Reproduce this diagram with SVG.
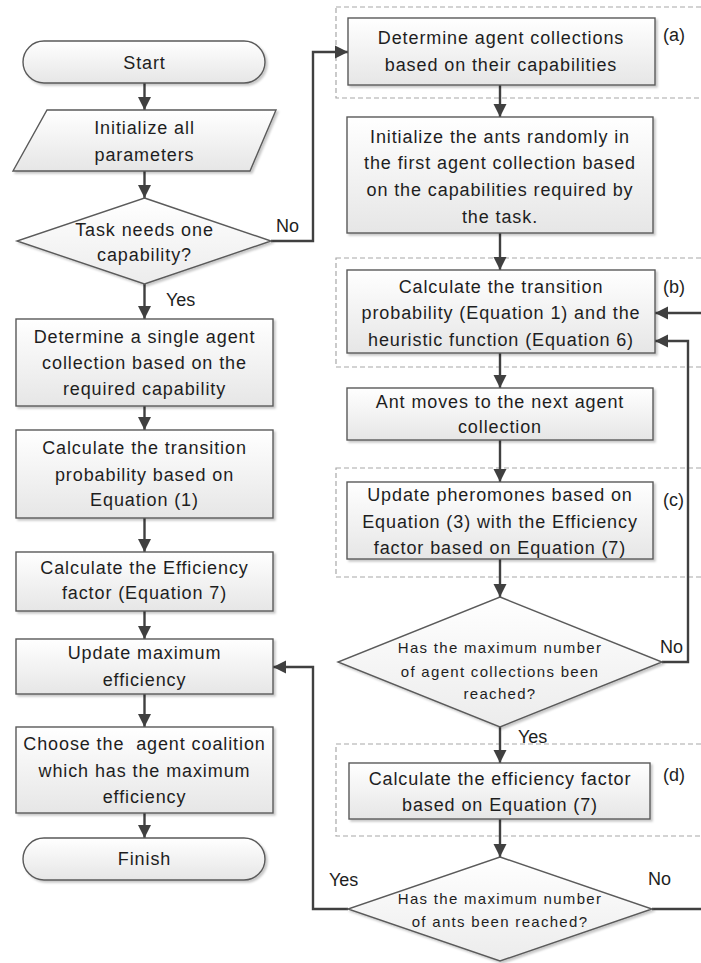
<svg xmlns="http://www.w3.org/2000/svg" width="701" height="963" viewBox="0 0 701 963">
<style>
.box{fill:url(#g);stroke:#5a5a5a;stroke-width:1.4;filter:url(#sh)}
.dia{fill:url(#g2);stroke:#5a5a5a;stroke-width:1.4;filter:url(#sh)}
.grp{fill:none;stroke:#a8a8a8;stroke-width:1.2;stroke-dasharray:5 3}
.t{font-family:"Liberation Sans",Arial,sans-serif;font-size:18px;fill:#1e1e1e;text-anchor:middle;letter-spacing:0.9px}
.s{font-family:"Liberation Sans",Arial,sans-serif;font-size:15px;fill:#1e1e1e;text-anchor:middle;letter-spacing:1.3px}
.l{font-family:"Liberation Sans",Arial,sans-serif;font-size:18px;fill:#1e1e1e}
.c{fill:none;stroke:#404040;stroke-width:2.4}
.c.a{marker-end:url(#ah)}
</style>
<defs>
<linearGradient id="g" x1="0" y1="0" x2="0" y2="1"><stop offset="0" stop-color="#ffffff"/><stop offset="1" stop-color="#e6e6e6"/></linearGradient>
<linearGradient id="g2" x1="0" y1="0" x2="0" y2="1"><stop offset="0" stop-color="#ffffff"/><stop offset="1" stop-color="#ececec"/></linearGradient>
<filter id="sh" x="-5%" y="-5%" width="115%" height="120%"><feDropShadow dx="2" dy="2" stdDeviation="1.2" flood-color="#000" flood-opacity="0.22"/></filter>
<marker id="ah" markerUnits="userSpaceOnUse" markerWidth="14" markerHeight="14" refX="13" refY="7" orient="auto"><path d="M0,0.5 L13,7 L0,13.5 Z" fill="#404040"/></marker>
</defs>

<g id="groups">
<rect class="grp" x="336" y="7" width="380" height="91"/>
<rect class="grp" x="336" y="258" width="380" height="109"/>
<rect class="grp" x="336" y="468" width="380" height="109"/>
<rect class="grp" x="336" y="744" width="380" height="92"/>
</g>

<g id="connectors">
<path class="c a" d="M144.5 83 V110"/>
<path class="c a" d="M144.5 171 V198"/>
<path class="c a" d="M144.5 284 V319"/>
<path class="c a" d="M144.5 406 V430"/>
<path class="c a" d="M144.5 518 V552"/>
<path class="c a" d="M144.5 611 V639"/>
<path class="c a" d="M144.5 694 V727"/>
<path class="c a" d="M144.5 813 V838"/>
<path class="c a" d="M271 241 H313 V52 H348"/>
<path class="c a" d="M500 85 V117"/>
<path class="c a" d="M500 233 V270"/>
<path class="c a" d="M500 353 V388"/>
<path class="c a" d="M500 440 V482"/>
<path class="c a" d="M500 559 V597"/>
<path class="c a" d="M500 727 V763"/>
<path class="c a" d="M662 662 H688 V341 H655"/>
<path class="c a" d="M500 819 V857"/>
<path class="c a" d="M348 909 H313 V667 H273"/>
<path class="c a" d="M652 909 H712 V313 H655"/>
</g>

<g id="start"><rect class="box" x="23" y="41" width="242" height="42" rx="21"/><text class="t" x="144.5" y="69">Start</text></g>
<g id="init"><polygon class="box" points="47,110 276,110 250,171 13,171"/><text class="t" x="144.5" y="134">Initialize all</text><text class="t" x="144.5" y="161">parameters</text></g>
<g id="d1"><polygon class="dia" points="144.5,198 271,241 144.5,284 17,241"/><text class="t" x="144.5" y="236">Task needs one</text><text class="t" x="144.5" y="261">capability?</text></g>
<g id="single"><rect class="box" x="16" y="319" width="257" height="87"/><text class="t" x="144.5" y="343">Determine a single agent</text><text class="t" x="144.5" y="369">collection based on the</text><text class="t" x="144.5" y="395">required capability</text></g>
<g id="trans"><rect class="box" x="16" y="430" width="257" height="88"/><text class="t" x="144.5" y="454">Calculate the transition</text><text class="t" x="144.5" y="481">probability based on</text><text class="t" x="144.5" y="506">Equation (1)</text></g>
<g id="eff"><rect class="box" x="16" y="552" width="257" height="59"/><text class="t" x="144.5" y="574">Calculate the Efficiency</text><text class="t" x="144.5" y="599">factor (Equation 7)</text></g>
<g id="upd"><rect class="box" x="16" y="639" width="257" height="55"/><text class="t" x="144.5" y="659">Update maximum</text><text class="t" x="144.5" y="686">efficiency</text></g>
<g id="choose"><rect class="box" x="16" y="727" width="257" height="86"/><text class="t" x="144.5" y="750" xml:space="preserve">Choose the  agent coalition</text><text class="t" x="144.5" y="777">which has the maximum</text><text class="t" x="144.5" y="803">efficiency</text></g>
<g id="finish"><rect class="box" x="23" y="838" width="242" height="42" rx="21"/><text class="t" x="144.5" y="865">Finish</text></g>

<g id="a"><rect class="box" x="348" y="18" width="307" height="67"/><text class="t" x="501" y="44">Determine agent collections</text><text class="t" x="501" y="71">based on their capabilities</text><text class="l" x="663" y="41">(a)</text></g>
<g id="ants"><rect class="box" x="347" y="117" width="306" height="116"/><text class="t" x="500" y="143">Initialize the ants randomly in</text><text class="t" x="500" y="169">the first agent collection based</text><text class="t" x="500" y="196">on the capabilities required by</text><text class="t" x="500" y="223">the task.</text></g>
<g id="b"><rect class="box" x="347" y="270" width="308" height="83"/><text class="t" x="501" y="293">Calculate the transition</text><text class="t" x="501" y="319">probability (Equation 1) and the</text><text class="t" x="501" y="346">heuristic function (Equation 6)</text><text class="l" x="663" y="293">(b)</text></g>
<g id="move"><rect class="box" x="347" y="388" width="306" height="52"/><text class="t" x="500" y="408">Ant moves to the next agent</text><text class="t" x="500" y="433">collection</text></g>
<g id="c"><rect class="box" x="347" y="482" width="306" height="77"/><text class="t" x="500" y="501">Update pheromones based on</text><text class="t" x="500" y="528">Equation (3) with the Efficiency</text><text class="t" x="500" y="554">factor based on Equation (7)</text><text class="l" x="663" y="506">(c)</text></g>
<g id="d2"><polygon class="dia" points="500,597 662,662 500,727 338,662"/><text class="s" x="500" y="653">Has the maximum number</text><text class="s" x="500" y="677">of agent collections been</text><text class="s" x="500" y="699">reached?</text></g>
<g id="d"><rect class="box" x="349" y="763" width="301" height="56"/><text class="t" x="500" y="785">Calculate the efficiency factor</text><text class="t" x="500" y="811">based on Equation (7)</text><text class="l" x="663" y="781">(d)</text></g>
<g id="d3"><polygon class="dia" points="500,857 652,909 500,961 348,909"/><text class="s" x="500" y="904">Has the maximum number</text><text class="s" x="500" y="927">of ants been reached?</text></g>

<g id="labels">
<text class="l" x="276" y="232">No</text>
<text class="l" x="166" y="306">Yes</text>
<text class="l" x="660" y="653">No</text>
<text class="l" x="518" y="743">Yes</text>
<text class="l" x="329" y="886">Yes</text>
<text class="l" x="648" y="885">No</text>
</g>
</svg>
